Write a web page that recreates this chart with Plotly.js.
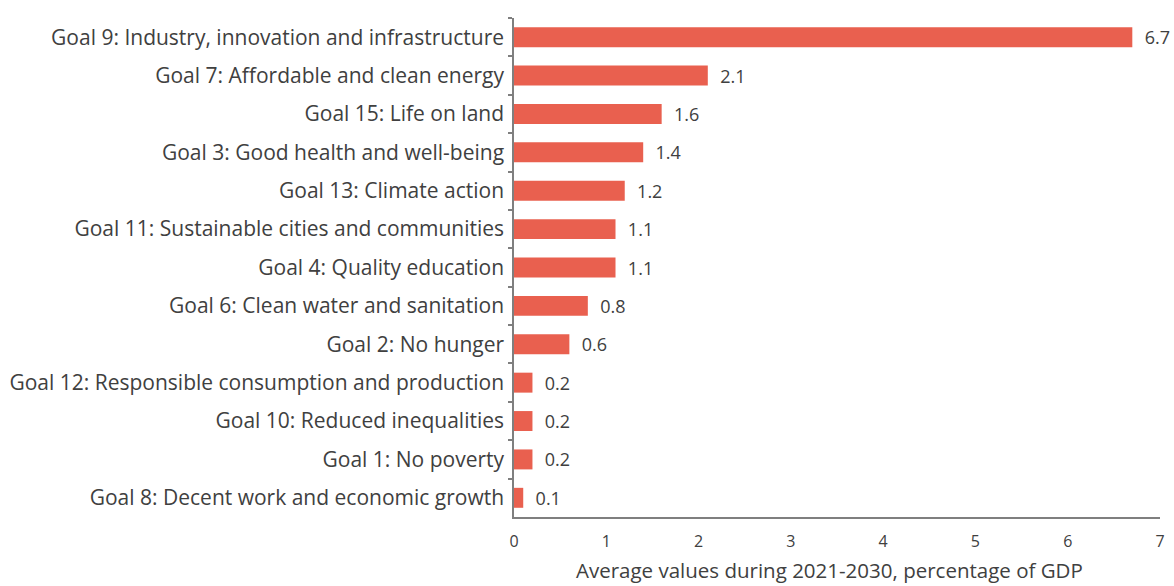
<!DOCTYPE html>
<html>
<head>
<meta charset="utf-8">
<script src="https://cdn.plot.ly/plotly-3.0.1.min.js"></script>
<style>html,body{margin:0;padding:0;background:#fff;}#chart{width:1174px;height:586px;}</style>
</head>
<body>
<div id="chart"></div>
<script>
// Data (top-to-bottom order in the reference)
const goals = [
  "Goal 9: Industry, innovation and infrastructure",
  "Goal 7: Affordable and clean energy",
  "Goal 15: Life on land",
  "Goal 3: Good health and well-being",
  "Goal 13: Climate action",
  "Goal 11: Sustainable cities and communities",
  "Goal 4: Quality education",
  "Goal 6: Clean water and sanitation",
  "Goal 2: No hunger",
  "Goal 12: Responsible consumption and production",
  "Goal 10: Reduced inequalities",
  "Goal 1: No poverty",
  "Goal 8: Decent work and economic growth"
];
const values = [6.7, 2.1, 1.6, 1.4, 1.2, 1.1, 1.1, 0.8, 0.6, 0.2, 0.2, 0.2, 0.1];
const xTicks = [0, 1, 2, 3, 4, 5, 6, 7];
const xTitle = "Average values during 2021-2030, percentage of GDP";

const FONT = "Open Sans, Noto Sans, sans-serif";
const TXT = "#404040";

const trace = {
  type: "bar",
  orientation: "h",
  y: goals,
  x: values,
  marker: {color: "#E9604F"},
  text: values.map(v => "  " + v.toFixed(1)),
  textposition: "outside",
  constraintext: "none",
  textfont: {family: FONT, size: 18, color: TXT},
  outsidetextfont: {family: FONT, size: 18, color: TXT},
  cliponaxis: false,
  hoverinfo: "x+y"
};

const layout = {
  width: 1174, height: 586,
  margin: {l: 514, r: 14, t: 18, b: 69},
  paper_bgcolor: "#fff", plot_bgcolor: "#fff",
  bargap: 0.48,
  showlegend: false,
  font: {family: FONT, color: TXT},
  xaxis: {
    range: [0, 7],
    tickvals: xTicks,
    ticktext: xTicks.map(String),
    showgrid: false, zeroline: false,
    showline: true, linecolor: "#7f7f7f", linewidth: 1.5,
    ticks: "outside", ticklen: 9, tickcolor: "rgba(0,0,0,0)",
    tickfont: {family: FONT, size: 16, color: TXT},
    fixedrange: true
  },
  yaxis: {
    autorange: "reversed",
    type: "category",
    showgrid: false, zeroline: false,
    showline: true, linecolor: "#7f7f7f", linewidth: 1.5,
    ticks: "outside", tickson: "boundaries", ticklen: 4, tickcolor: "#7f7f7f", tickwidth: 1.5,
    tickfont: {family: FONT, size: 21, color: TXT},
    ticklabelstandoff: 4,
    fixedrange: true
  },
  annotations: [{
    text: xTitle,
    xref: "paper", yref: "paper",
    x: 0.488, y: -0.1383,
    xanchor: "center", yanchor: "bottom",
    showarrow: false,
    font: {family: FONT, size: 20.5, color: TXT}
  }]
};

Plotly.newPlot("chart", [trace], layout, {displayModeBar: false});
</script>
</body>
</html>
